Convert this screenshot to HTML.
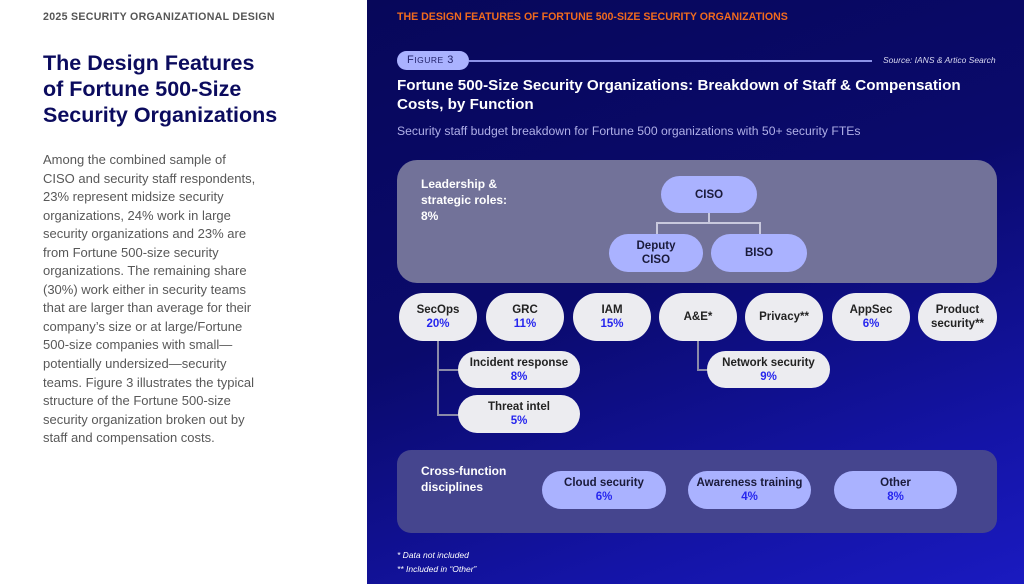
<!DOCTYPE html>
<html><head><meta charset="utf-8"><style>
*{margin:0;padding:0;box-sizing:border-box}
body{width:1024px;height:584px;overflow:hidden;font-family:"Liberation Sans",sans-serif;position:relative;background:#fff}
.a{position:absolute}
#right{position:absolute;left:367px;top:0;width:657px;height:584px;background:linear-gradient(160deg,#07075a 0%,#0a0a6c 45%,#1414a6 80%,#1a1ac0 100%)}
.pill{position:absolute;border-radius:20px;display:flex;flex-direction:column;align-items:center;justify-content:center;text-align:center;font-weight:bold;font-size:11.5px;line-height:14px;color:#222}
.w{background:#ececf0}
.l{background:#aab2ff;color:#1a1a3a}
.p{color:#2626ee}
.ln{position:absolute;background:#8a8aa8}
</style></head><body>
<div class="a" style="left:43px;top:11px;font-size:10.6px;font-weight:bold;color:#555;letter-spacing:0.3px">2025 SECURITY ORGANIZATIONAL DESIGN</div>
<div class="a" style="left:43px;top:50px;font-size:21.5px;line-height:26px;font-weight:bold;color:#0b0b5e">The Design Features<br>of Fortune 500-Size<br>Security Organizations</div>
<div class="a" style="left:43px;top:151px;font-size:13px;line-height:18.55px;color:#585858">Among the combined sample of<br>CISO and security staff respondents,<br>23% represent midsize security<br>organizations, 24% work in large<br>security organizations and 23% are<br>from Fortune 500-size security<br>organizations. The remaining share<br>(30%) work either in security teams<br>that are larger than average for their<br>company’s size or at large/Fortune<br>500-size companies with small—<br>potentially undersized—security<br>teams. Figure 3 illustrates the typical<br>structure of the Fortune 500-size<br>security organization broken out by<br>staff and compensation costs.</div>
<div id="right"></div>
<div class="a" style="left:397px;top:11px;font-size:10.6px;font-weight:bold;color:#f06a1e">THE DESIGN FEATURES OF FORTUNE 500-SIZE SECURITY ORGANIZATIONS</div>
<div class="a" style="left:397px;top:51px;width:72px;height:19px;border-radius:10px;background:#aab2ff;color:#22226a;font-size:11px;line-height:19px;padding-left:10px;letter-spacing:0.5px">F<span style="font-size:8.5px">IGURE</span> 3</div>
<div class="a" style="left:469px;top:60px;width:403px;height:2px;background:#8c92e8"></div>
<div class="a" style="left:883px;top:55px;font-size:8.5px;font-style:italic;color:#d8d8f0">Source: IANS &amp; Artico Search</div>
<div class="a" style="left:397px;top:77px;font-size:15.2px;line-height:18.5px;font-weight:bold;color:#fff">Fortune 500-Size Security Organizations: Breakdown of Staff &amp; Compensation<br>Costs, by Function</div>
<div class="a" style="left:397px;top:124px;font-size:12.2px;color:#b0b0e8">Security staff budget breakdown for Fortune 500 organizations with 50+ security FTEs</div>

<div class="a" style="left:397px;top:160px;width:600px;height:123px;border-radius:20px;background:#727299"></div>
<div class="a" style="left:421px;top:176px;font-size:12px;line-height:16px;font-weight:bold;color:#fff">Leadership &amp;<br>strategic roles:<br>8%</div>
<div class="ln" style="left:708px;top:213px;width:1.5px;height:10px;background:#c8c8dd"></div>
<div class="ln" style="left:656px;top:222px;width:105px;height:1.5px;background:#c8c8dd"></div>
<div class="ln" style="left:656px;top:222px;width:1.5px;height:12px;background:#c8c8dd"></div>
<div class="ln" style="left:759px;top:222px;width:1.5px;height:12px;background:#c8c8dd"></div>
<div class="pill l" style="left:661px;top:176px;width:96px;height:37px">CISO</div>
<div class="pill l" style="left:609px;top:234px;width:94px;height:38px">Deputy<br>CISO</div>
<div class="pill l" style="left:711px;top:234px;width:96px;height:38px">BISO</div>

<div class="ln" style="left:437px;top:341px;width:1.5px;height:74px"></div>
<div class="ln" style="left:437px;top:369px;width:22px;height:1.5px"></div>
<div class="ln" style="left:437px;top:414px;width:22px;height:1.5px"></div>
<div class="ln" style="left:697px;top:341px;width:1.5px;height:29px"></div>
<div class="ln" style="left:697px;top:369px;width:12px;height:1.5px"></div>

<div class="pill w" style="left:399px;top:293px;width:78px;height:48px;border-radius:24px">SecOps<span class="p">20%</span></div>
<div class="pill w" style="left:486px;top:293px;width:78px;height:48px;border-radius:24px">GRC<span class="p">11%</span></div>
<div class="pill w" style="left:573px;top:293px;width:78px;height:48px;border-radius:24px">IAM<span class="p">15%</span></div>
<div class="pill w" style="left:659px;top:293px;width:78px;height:48px;border-radius:24px">A&amp;E*</div>
<div class="pill w" style="left:745px;top:293px;width:78px;height:48px;border-radius:24px">Privacy**</div>
<div class="pill w" style="left:832px;top:293px;width:78px;height:48px;border-radius:24px">AppSec<span class="p">6%</span></div>
<div class="pill w" style="left:918px;top:293px;width:79px;height:48px;border-radius:24px">Product<br>security**</div>
<div class="pill w" style="left:458px;top:351px;width:122px;height:37px">Incident response<span class="p">8%</span></div>
<div class="pill w" style="left:458px;top:395px;width:122px;height:38px">Threat intel<span class="p">5%</span></div>
<div class="pill w" style="left:707px;top:351px;width:123px;height:37px">Network security<span class="p">9%</span></div>

<div class="a" style="left:397px;top:450px;width:600px;height:83px;border-radius:14px;background:#45458e"></div>
<div class="a" style="left:421px;top:463px;font-size:12px;line-height:16px;font-weight:bold;color:#fff">Cross-function<br>disciplines</div>
<div class="pill l" style="left:542px;top:471px;width:124px;height:38px">Cloud security<span class="p">6%</span></div>
<div class="pill l" style="left:688px;top:471px;width:123px;height:38px">Awareness training<span class="p">4%</span></div>
<div class="pill l" style="left:834px;top:471px;width:123px;height:38px">Other<span class="p">8%</span></div>

<div class="a" style="left:397px;top:549px;font-size:8.5px;line-height:13.5px;font-style:italic;color:#fff">* Data not included<br>** Included in “Other”</div>
</body></html>
